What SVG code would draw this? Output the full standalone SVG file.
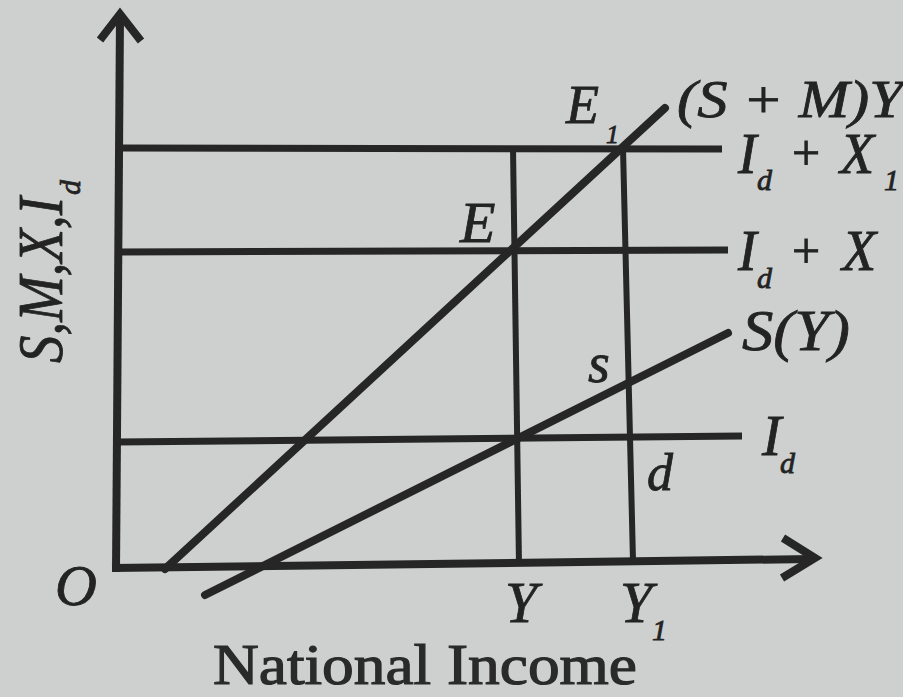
<svg xmlns="http://www.w3.org/2000/svg" width="903" height="697" viewBox="0 0 903 697">
  <style>
    .ln { stroke: #262626; fill: none; stroke-linecap: butt; }
    .ax { stroke-width: 8; }
    .hz { stroke-width: 7; }
    .vt { stroke-width: 6; }
    .sl { stroke-width: 8; stroke-linecap: round; }
    .lb { font-family: 'Liberation Serif', 'Times New Roman', Tinos, serif; font-style: italic; fill: #232323; stroke: #232323; stroke-width: 0.8; }
    .sb { font-size: 30px; }
    .pl { font-style: normal; }
    .ttl { font-family: 'Liberation Serif', 'Times New Roman', Tinos, serif; fill: #2a2a2a; stroke: #2a2a2a; stroke-width: 1.2; font-size: 58px; }
  </style>
  <rect x="0" y="0" width="903" height="697" fill="#cdd0cf"/>

  <g id="axes" class="ln">
    <line class="ax" x1="120" y1="16" x2="116" y2="572"/>
    <polyline class="ax" points="100,40 120,14 141,41" stroke-linejoin="miter"/>
    <line class="ax" x1="112" y1="568" x2="812" y2="559"/>
    <polyline class="ax" points="783,538 815,558 782,578" stroke-linejoin="miter"/>
  </g>

  <g id="guides" class="ln">
    <line id="line-IdX1" class="hz" x1="120" y1="148" x2="722" y2="149"/>
    <line id="line-IdX" class="hz" x1="118" y1="252" x2="728" y2="250"/>
    <line id="line-Id" class="hz" x1="117" y1="442" x2="742" y2="436"/>
    <line id="vert-Y" class="vt" x1="513" y1="148" x2="519" y2="565"/>
    <line id="vert-Y1" class="vt" x1="623" y1="148" x2="633" y2="561"/>
  </g>

  <g id="curves" class="ln">
    <line id="curve-SMY" class="sl" x1="165" y1="569" x2="665" y2="108"/>
    <line id="curve-SY" class="sl" x1="205" y1="595" x2="728" y2="333"/>
  </g>

  <g id="labels">
    <g id="label-yaxis">
      <text class="lb" transform="translate(62,363) rotate(-90)" font-size="64" textLength="166" lengthAdjust="spacingAndGlyphs">S,M,X,I</text>
      <text class="lb sb" transform="translate(80,195) rotate(-90)" font-size="32">d</text>
    </g>
    <g id="label-E1">
      <text class="lb" x="566" y="123" font-size="54">E</text>
      <text class="lb" x="606" y="143" font-size="26">1</text>
    </g>
    <text id="label-SMY" class="lb" x="677" y="117" font-size="52" textLength="226" lengthAdjust="spacingAndGlyphs">(S + M)Y</text>
    <g id="label-IdX1">
      <text class="lb" x="738" y="173" font-size="56">I</text>
      <text class="lb sb" x="757" y="190">d</text>
      <text class="lb pl" x="792" y="170" font-size="50">+</text>
      <text class="lb" x="840" y="173" font-size="56">X</text>
      <text class="lb sb" x="884" y="190">1</text>
    </g>
    <text id="label-E" class="lb" x="460" y="242" font-size="58">E</text>
    <g id="label-IdX">
      <text class="lb" x="738" y="270" font-size="56">I</text>
      <text class="lb sb" x="757" y="288">d</text>
      <text class="lb pl" x="792" y="268" font-size="50">+</text>
      <text class="lb" x="842" y="270" font-size="56">X</text>
    </g>
    <text id="label-SY" class="lb" x="742" y="350" font-size="58" textLength="108" lengthAdjust="spacingAndGlyphs">S(Y)</text>
    <text id="label-s" class="lb" x="588" y="382" font-size="56">s</text>
    <g id="label-Id">
      <text class="lb" x="762" y="455" font-size="58">I</text>
      <text class="lb sb" x="780" y="473">d</text>
    </g>
    <text id="label-d" class="lb" x="647" y="490" font-size="52">d</text>
    <text id="label-O" class="lb" x="55" y="605" font-size="58">O</text>
    <text id="label-Y" class="lb" x="505" y="622" font-size="58">Y</text>
    <g id="label-Y1">
      <text class="lb" x="620" y="622" font-size="58">Y</text>
      <text class="lb sb" x="652" y="640">1</text>
    </g>
    <text id="label-xaxis" class="ttl" x="213" y="684" textLength="424" lengthAdjust="spacingAndGlyphs">National Income</text>
  </g>
</svg>
